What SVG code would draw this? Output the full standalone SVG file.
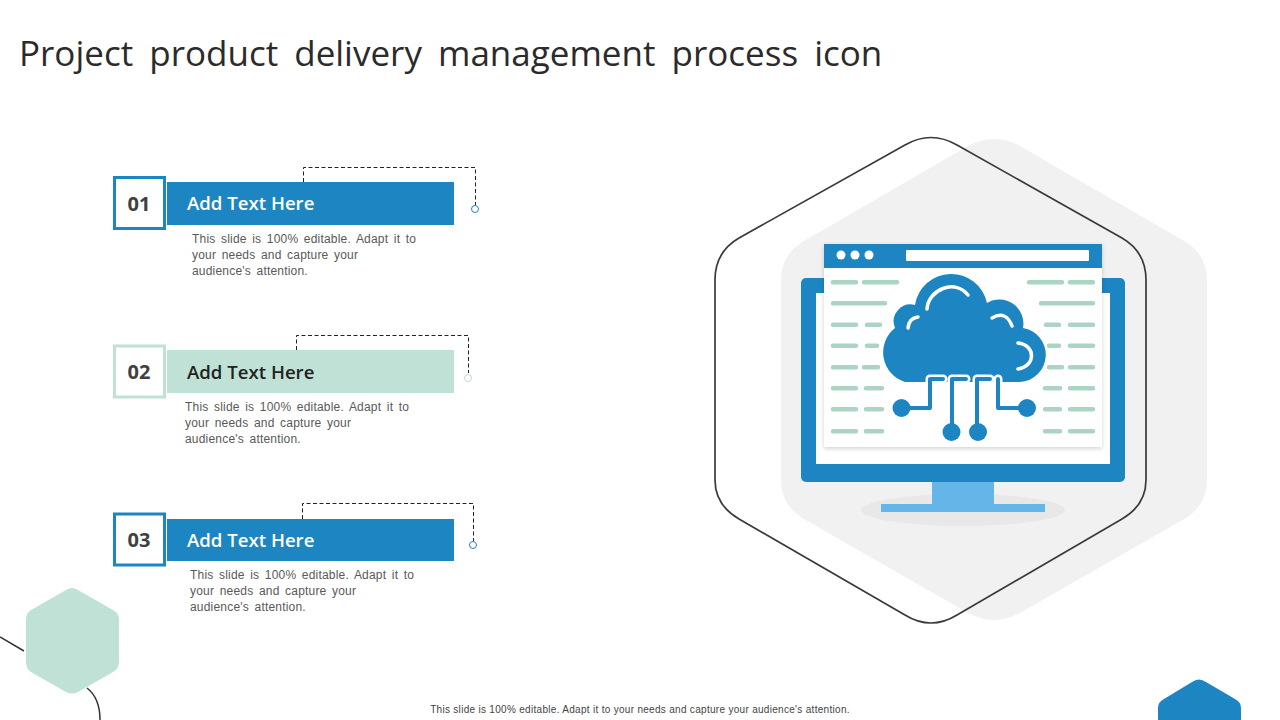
<svg xmlns="http://www.w3.org/2000/svg" width="1280" height="720" viewBox="0 0 1280 720">
<style>
.t{font-family:"Open Sans","Noto Sans",sans-serif}
.title{font-size:35px;fill:#2b2b2b;word-spacing:7px}
.head{font-size:18.600px;font-weight:600}
.num{font-size:20px;font-weight:700;fill:#404040;text-anchor:middle}
.body{font-family:"Liberation Sans",Arial,sans-serif;font-size:12px;fill:#595959;letter-spacing:.2px;word-spacing:2px}
.dash{fill:none;stroke:#222;stroke-width:1;stroke-dasharray:4 2.500}
.g{stroke:#acd4c3;stroke-width:4.500;stroke-linecap:round;fill:none}
.h{fill:none;stroke:#fff;stroke-width:9;stroke-linecap:round;stroke-linejoin:round}
.c{fill:none;stroke:#1c85c2;stroke-width:4;stroke-linejoin:round;stroke-linecap:round}
.w{fill:none;stroke:#fff;stroke-width:3.500;stroke-linecap:round}
</style>
<defs><filter id="sh" x="-5%" y="-5%" width="110%" height="110%"><feDropShadow dx="0" dy="1.500" stdDeviation="2" flood-color="#000" flood-opacity=".18"/></filter></defs>
<text class="t title" x="19" y="66">Project product delivery management process icon</text>

<g id="decor">
<path d="M78 590L113 610Q119 613 119 620V662Q119 669 113 672L78 692Q72 695 66 692L31 672Q26 669 26 662V620Q26 613 31 610L66 590Q72 586 78 590Z" fill="#c0e2d6"/>
<path d="M0 637L24 651M87 688Q100 698 100 720" fill="none" stroke="#333" stroke-width="1.500"/>
<path d="M1158 720V708Q1158 702 1164 699L1192 682Q1199 677 1206 682L1235 699Q1241 702 1241 708V720Z" fill="#1c85c2"/>
</g>

<g id="connectors">
<path class="dash" d="M303.500 182V167.500H475.500V205"/>
<path class="dash" d="M296.500 350V335.500H468.500V373"/>
<path class="dash" d="M302.500 519V503.500H473.500V541"/>
</g>

<g id="item1">
<rect x="114.500" y="177.500" width="50" height="51" fill="#fff" stroke="#1c85c2" stroke-width="3"/>
<text class="t num" x="139" y="211">01</text>
<rect x="167" y="182" width="287" height="43" fill="#1c85c2"/>
<text class="t head" x="187" y="210" fill="#fff">Add Text Here</text>
<circle cx="475" cy="209" r="3.500" fill="#fff" stroke="#1c85c2"/>
<text class="body" x="192" y="243">This slide is 100% editable. Adapt it to</text>
<text class="body" x="192" y="259">your needs and capture your</text>
<text class="body" x="192" y="275">audience's attention.</text>
</g>
<g id="item2">
<rect x="114.500" y="346" width="50" height="51" fill="#fff" stroke="#c0e2d6" stroke-width="3"/>
<text class="t num" x="139" y="379">02</text>
<rect x="167" y="350" width="287" height="43" fill="#c0e2d6"/>
<text class="t head" x="187" y="379" fill="#222">Add Text Here</text>
<circle cx="468" cy="378" r="3.500" fill="#fff" stroke="#c9d6d1"/>
<text class="body" x="185" y="411">This slide is 100% editable. Adapt it to</text>
<text class="body" x="185" y="427">your needs and capture your</text>
<text class="body" x="185" y="443">audience's attention.</text>
</g>
<g id="item3">
<rect x="114.500" y="514" width="50" height="51" fill="#fff" stroke="#1c85c2" stroke-width="3"/>
<text class="t num" x="139" y="547">03</text>
<rect x="167" y="519" width="287" height="42" fill="#1c85c2"/>
<text class="t head" x="187" y="547" fill="#fff">Add Text Here</text>
<circle cx="473" cy="545" r="3.500" fill="#fff" stroke="#1c85c2"/>
<text class="body" x="190" y="579">This slide is 100% editable. Adapt it to</text>
<text class="body" x="190" y="595">your needs and capture your</text>
<text class="body" x="190" y="611">audience's attention.</text>
</g>

<g id="icon">
<path d="M968 146Q994 132 1020 146L1184 241Q1207 254 1207 281V479Q1207 506 1184 519L1020 613Q994 627 968 613L804 519Q781 506 781 479V281Q781 254 804 241Z" fill="#f1f1f1"/>
<path d="M905 145Q931 130 957 145L1122 238Q1146 252 1146 280V480Q1146 505 1122 519L957 615Q931 631 905 615L739 519Q715 505 715 480V280Q715 252 739 238Z" fill="none" stroke="#3a3a3a" stroke-width="1.700"/>
<ellipse cx="963" cy="510" rx="102" ry="16" fill="#e8e8e8"/>
<rect x="801" y="278" width="324" height="204" rx="5" fill="#1c85c2"/>
<rect x="816" y="293" width="294" height="171" fill="#fff"/>
<rect x="932" y="482" width="62" height="22" fill="#66b5e8"/>
<rect x="881" y="504" width="164" height="8" fill="#66b5e8"/>
<rect x="824" y="244" width="278" height="203" fill="#fff" filter="url(#sh)"/>
<rect x="824" y="244" width="278" height="24" fill="#1c85c2"/>
<circle cx="841" cy="255" r="4.500" fill="#fff"/><circle cx="855" cy="255" r="4.500" fill="#fff"/><circle cx="869" cy="255" r="4.500" fill="#fff"/>
<rect x="906" y="250" width="183" height="11" rx="1" fill="#fff"/>
<path class="g" d="M833 282.300H856M864 282.300H897M833 303.300H885M833 324.700H856M867 324.700H880M833 345.700H856M867 345.700H877M833 367.300H856M864 367.300H878M833 388.300H856M866 388.300H882M833 409.300H856M866 409.300H882M833 431.300H856M866 431.300H882"/>
<path class="g" d="M1029 282.300H1062M1070 282.300H1093M1041 303.300H1093M1046 324.700H1059M1070 324.700H1093M1049 345.700H1059M1070 345.700H1093M1049 367.300H1062M1070 367.300H1093M1045 388.300H1060M1070 388.300H1093M1045 409.300H1060M1070 409.300H1093M1045 431.300H1060M1070 431.300H1093"/>
<path d="M905 382A31 31 0 0 1 895 328A17 17 0 0 1 915 305A36.600 36.600 0 0 1 987 303A24 24 0 0 1 1023 328A27.200 27.200 0 0 1 1020 382Z" fill="#1c85c2"/>
<path class="h" d="M943 379H930V408H902"/>
<path class="h" d="M966 379H952V432"/>
<path class="h" d="M990 379H977V432"/>
<path class="h" d="M998 379V408H1027"/>
<path class="c" d="M943 379H930V408H902"/>
<path class="c" d="M966 379H952V432"/>
<path class="c" d="M990 379H977V432"/>
<path class="c" d="M998 379V408H1027"/>
<circle cx="901.500" cy="408" r="9" fill="#1c85c2"/><circle cx="1027" cy="408" r="9" fill="#1c85c2"/>
<circle cx="951.500" cy="432" r="9" fill="#1c85c2"/><circle cx="978" cy="432" r="9" fill="#1c85c2"/>
<path class="w" d="M927 309C928 290 955 278 968 295"/>
<path class="w" d="M908 328Q909 318 918 317"/>
<path class="w" d="M992 318Q1006 310 1012 326"/>
<path class="w" d="M1018 343C1036 345 1036 366 1018 369"/>
</g>
<text x="640" y="713" text-anchor="middle" font-family="Liberation Sans,Arial,sans-serif" font-size="10" fill="#444" letter-spacing=".3">This slide is 100% editable. Adapt it to your needs and capture your audience's attention.</text>
</svg>
